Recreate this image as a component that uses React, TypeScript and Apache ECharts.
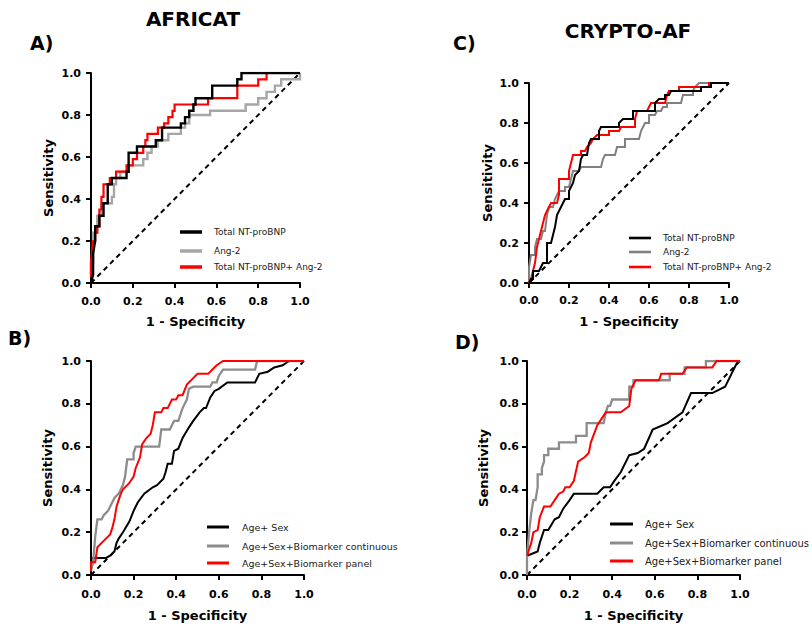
import React, { useEffect, useRef } from "react";
import * as echarts from "echarts";

// ---------- data (1 - specificity, sensitivity) ----------
const africatNtProBnp: number[][] = [
  [0, 0], [0.01, 0.04], [0.01, 0.14], [0.02, 0.2], [0.02, 0.27], [0.04, 0.27], [0.04, 0.32], [0.06, 0.32],
  [0.06, 0.38], [0.08, 0.38], [0.08, 0.47], [0.1, 0.47], [0.1, 0.5], [0.17, 0.5], [0.17, 0.53], [0.18, 0.53],
  [0.18, 0.62], [0.22, 0.62], [0.22, 0.65], [0.31, 0.65], [0.31, 0.68], [0.34, 0.68], [0.34, 0.74], [0.43, 0.74],
  [0.43, 0.76], [0.45, 0.76], [0.45, 0.79], [0.47, 0.79], [0.47, 0.82], [0.49, 0.82], [0.49, 0.85], [0.5, 0.85],
  [0.5, 0.88], [0.58, 0.88], [0.58, 0.94], [0.7, 0.94], [0.7, 0.97], [0.72, 0.97], [0.72, 1], [1, 1],
];
const africatAng2: number[][] = [
  [0, 0.03], [0, 0.1], [0.01, 0.1], [0.01, 0.24], [0.03, 0.24], [0.03, 0.32], [0.05, 0.32], [0.05, 0.38],
  [0.1, 0.38], [0.1, 0.41], [0.11, 0.41], [0.11, 0.47], [0.12, 0.47], [0.12, 0.5], [0.14, 0.5], [0.14, 0.53],
  [0.18, 0.53], [0.18, 0.56], [0.25, 0.56], [0.25, 0.59], [0.27, 0.59], [0.27, 0.62], [0.29, 0.62], [0.29, 0.65],
  [0.32, 0.65], [0.32, 0.68], [0.37, 0.68], [0.37, 0.71], [0.43, 0.71], [0.43, 0.74], [0.45, 0.74], [0.45, 0.76],
  [0.47, 0.76], [0.47, 0.8], [0.57, 0.8], [0.57, 0.82], [0.74, 0.82], [0.74, 0.85], [0.8, 0.85], [0.8, 0.88],
  [0.84, 0.88], [0.84, 0.91], [0.88, 0.91], [0.88, 0.94], [0.91, 0.94], [0.91, 0.97], [1, 0.97], [1, 1],
];
const africatCombined: number[][] = [
  [0, 0.03], [0, 0.1], [0.01, 0.2], [0.02, 0.2], [0.02, 0.24], [0.03, 0.24], [0.03, 0.27], [0.04, 0.27],
  [0.04, 0.35], [0.05, 0.35], [0.05, 0.41], [0.06, 0.41], [0.06, 0.47], [0.09, 0.47], [0.09, 0.5], [0.12, 0.5],
  [0.12, 0.53], [0.17, 0.53], [0.17, 0.56], [0.2, 0.56], [0.2, 0.59], [0.22, 0.59], [0.22, 0.62], [0.25, 0.62],
  [0.25, 0.65], [0.26, 0.65], [0.26, 0.68], [0.27, 0.68], [0.27, 0.71], [0.32, 0.71], [0.32, 0.74], [0.35, 0.74],
  [0.35, 0.76], [0.37, 0.76], [0.37, 0.79], [0.39, 0.79], [0.39, 0.82], [0.4, 0.82], [0.4, 0.85], [0.56, 0.85],
  [0.56, 0.88], [0.7, 0.88], [0.7, 0.94], [0.8, 0.94], [0.8, 0.97], [0.84, 0.97], [0.84, 1], [1, 1],
];

const africatAgeSex: number[][] = [
  [0, 0.03], [0.01, 0.08], [0.07, 0.08], [0.09, 0.09], [0.11, 0.11], [0.12, 0.15], [0.13, 0.17], [0.15, 0.2],
  [0.18, 0.25], [0.2, 0.3], [0.22, 0.34], [0.25, 0.38], [0.29, 0.41], [0.31, 0.42], [0.34, 0.45], [0.35, 0.48],
  [0.36, 0.52], [0.38, 0.52], [0.39, 0.58], [0.41, 0.59], [0.43, 0.64], [0.46, 0.69], [0.48, 0.72], [0.51, 0.76],
  [0.53, 0.78], [0.54, 0.78], [0.56, 0.83], [0.58, 0.86], [0.6, 0.87], [0.64, 0.9], [0.77, 0.9], [0.79, 0.94],
  [0.83, 0.95], [0.86, 0.97], [0.9, 0.98], [0.93, 1], [1, 1],
];
const africatContinuous: number[][] = [
  [0, 0.02], [0.01, 0.06], [0.02, 0.18], [0.03, 0.26], [0.05, 0.26], [0.06, 0.28], [0.08, 0.3], [0.1, 0.34],
  [0.11, 0.36], [0.13, 0.38], [0.15, 0.42], [0.16, 0.46], [0.17, 0.54], [0.2, 0.54], [0.2, 0.57], [0.21, 0.6],
  [0.32, 0.6], [0.33, 0.68], [0.37, 0.68], [0.39, 0.72], [0.41, 0.72], [0.42, 0.75], [0.43, 0.78], [0.45, 0.82],
  [0.46, 0.87], [0.48, 0.88], [0.56, 0.88], [0.57, 0.9], [0.59, 0.9], [0.6, 0.93], [0.62, 0.96], [0.77, 0.96],
  [0.78, 1], [1, 1],
];
const africatPanel: number[][] = [
  [0, 0.02], [0, 0.06], [0.02, 0.06], [0.03, 0.13], [0.05, 0.15], [0.07, 0.17], [0.09, 0.19], [0.1, 0.22],
  [0.11, 0.26], [0.12, 0.32], [0.14, 0.38], [0.15, 0.4], [0.17, 0.42], [0.18, 0.43], [0.2, 0.46], [0.21, 0.5],
  [0.23, 0.55], [0.24, 0.61], [0.26, 0.64], [0.28, 0.66], [0.29, 0.7], [0.3, 0.76], [0.33, 0.76], [0.34, 0.78],
  [0.36, 0.78], [0.38, 0.82], [0.4, 0.82], [0.41, 0.84], [0.43, 0.84], [0.45, 0.89], [0.48, 0.92], [0.5, 0.94],
  [0.55, 0.94], [0.57, 0.96], [0.59, 0.98], [0.62, 1], [1, 1],
];

const cryptoNtProBnp: number[][] = [
  [0, 0], [0.01, 0.02], [0.02, 0.02], [0.02, 0.06], [0.05, 0.06], [0.06, 0.08], [0.07, 0.1], [0.09, 0.1],
  [0.09, 0.2], [0.11, 0.2], [0.12, 0.24], [0.13, 0.28], [0.14, 0.34], [0.15, 0.36], [0.16, 0.38], [0.18, 0.42],
  [0.2, 0.42], [0.2, 0.46], [0.22, 0.5], [0.23, 0.54], [0.25, 0.56], [0.26, 0.62], [0.27, 0.64], [0.29, 0.64],
  [0.3, 0.7], [0.31, 0.72], [0.35, 0.72], [0.35, 0.76], [0.36, 0.78], [0.45, 0.78], [0.45, 0.8], [0.47, 0.82],
  [0.52, 0.82], [0.52, 0.86], [0.63, 0.86], [0.63, 0.9], [0.65, 0.92], [0.68, 0.92], [0.68, 0.94], [0.7, 0.94],
  [0.71, 0.96], [0.86, 0.96], [0.86, 0.98], [0.91, 0.98], [0.91, 1], [1, 1],
];
const cryptoAng2: number[][] = [
  [0, 0], [0, 0.08], [0.01, 0.14], [0.03, 0.14], [0.03, 0.18], [0.04, 0.22], [0.06, 0.22], [0.07, 0.26],
  [0.08, 0.26], [0.09, 0.34], [0.1, 0.38], [0.12, 0.38], [0.13, 0.42], [0.14, 0.44], [0.15, 0.46], [0.18, 0.46],
  [0.18, 0.48], [0.2, 0.48], [0.21, 0.52], [0.22, 0.56], [0.25, 0.56], [0.26, 0.58], [0.36, 0.58], [0.37, 0.62],
  [0.38, 0.64], [0.43, 0.64], [0.44, 0.68], [0.48, 0.68], [0.48, 0.72], [0.55, 0.72], [0.56, 0.76], [0.58, 0.8],
  [0.6, 0.8], [0.6, 0.84], [0.63, 0.84], [0.64, 0.86], [0.66, 0.86], [0.67, 0.88], [0.69, 0.88], [0.69, 0.9],
  [0.76, 0.9], [0.77, 0.94], [0.82, 0.94], [0.82, 0.96], [0.83, 0.98], [0.85, 1], [1, 1],
];
const cryptoCombined: number[][] = [
  [0, 0], [0.01, 0.02], [0.02, 0.06], [0.03, 0.1], [0.04, 0.18], [0.05, 0.22], [0.06, 0.26], [0.07, 0.3],
  [0.08, 0.34], [0.09, 0.36], [0.1, 0.38], [0.11, 0.4], [0.14, 0.4], [0.15, 0.44], [0.15, 0.52], [0.2, 0.52],
  [0.2, 0.56], [0.21, 0.6], [0.22, 0.64], [0.26, 0.64], [0.26, 0.66], [0.28, 0.66], [0.29, 0.68], [0.31, 0.7],
  [0.32, 0.72], [0.34, 0.74], [0.4, 0.74], [0.4, 0.76], [0.45, 0.76], [0.46, 0.78], [0.53, 0.78], [0.53, 0.82],
  [0.54, 0.86], [0.59, 0.86], [0.6, 0.88], [0.61, 0.9], [0.68, 0.9], [0.69, 0.94], [0.7, 0.96], [0.75, 0.96],
  [0.75, 0.98], [0.9, 0.98], [0.9, 1], [1, 1],
];

const cryptoAgeSex: number[][] = [
  [0, 0.09], [0.05, 0.11], [0.06, 0.15], [0.08, 0.21], [0.1, 0.21], [0.13, 0.26], [0.15, 0.27], [0.17, 0.31],
  [0.2, 0.35], [0.22, 0.38], [0.33, 0.38], [0.36, 0.41], [0.39, 0.41], [0.41, 0.44], [0.44, 0.48], [0.48, 0.56],
  [0.52, 0.57], [0.55, 0.59], [0.59, 0.68], [0.66, 0.71], [0.73, 0.76], [0.77, 0.85], [0.87, 0.85], [0.93, 0.88],
  [0.96, 0.94], [0.99, 1], [1, 1],
];
const cryptoContinuous: number[][] = [
  [0, 0], [0, 0.09], [0.01, 0.2], [0.02, 0.29], [0.03, 0.35], [0.04, 0.35], [0.05, 0.41], [0.05, 0.47],
  [0.07, 0.47], [0.07, 0.5], [0.08, 0.53], [0.08, 0.56], [0.1, 0.56], [0.1, 0.59], [0.15, 0.59], [0.15, 0.62],
  [0.23, 0.62], [0.23, 0.65], [0.28, 0.65], [0.28, 0.71], [0.36, 0.71], [0.37, 0.76], [0.38, 0.79], [0.39, 0.79],
  [0.4, 0.82], [0.48, 0.82], [0.48, 0.88], [0.5, 0.88], [0.5, 0.91], [0.67, 0.91], [0.67, 0.94], [0.74, 0.94],
  [0.74, 0.97], [0.84, 0.97], [0.84, 1], [1, 1],
];
const cryptoPanel: number[][] = [
  [0, 0.09], [0.02, 0.15], [0.03, 0.2], [0.05, 0.21], [0.06, 0.27], [0.08, 0.32], [0.11, 0.32], [0.13, 0.35],
  [0.15, 0.38], [0.17, 0.39], [0.18, 0.41], [0.2, 0.41], [0.22, 0.44], [0.24, 0.53], [0.27, 0.55], [0.29, 0.57],
  [0.3, 0.62], [0.33, 0.7], [0.37, 0.76], [0.44, 0.76], [0.48, 0.79], [0.49, 0.87], [0.51, 0.91], [0.62, 0.91],
  [0.63, 0.94], [0.73, 0.94], [0.75, 0.97], [0.87, 0.97], [0.89, 1], [1, 1],
];

const referenceLine: number[][] = [[0, 0], [1, 1]];
const axisTicks = [0, 0.2, 0.4, 0.6, 0.8, 1.0];
const xTitle = "1 - Specificity";
const yTitle = "Sensitivity";
const namesTop = ["Total NT-proBNP", "Ang-2", "Total NT-proBNP+ Ang-2"];
const namesBottom = ["Age+ Sex", "Age+Sex+Biomarker continuous", "Age+Sex+Biomarker panel"];

// ---------- layout ----------
const FONT = '"DejaVu Sans", "Liberation Sans", Arial, sans-serif';
const RED = "#ff0000";

type Panel = {
  grid: { left: number; top: number; width: number; height: number };
  xMargin: number; yMargin: number; xGap: number; yGap: number;
  legendNames: string[];
  series: { name: string; data: number[][]; color: string; width: number; z: number }[];
  legend: { x1: number; x2: number; tx: number; ys: number[]; size: number; lw: number };
};

const panels: Panel[] = [
  {
    grid: { left: 91, top: 73, width: 209, height: 210 },
    xMargin: 13, yMargin: 10, xGap: 32, yGap: 36,
    legendNames: namesTop,
    series: [
      { name: namesTop[1], data: africatAng2, color: "#a6a6a6", width: 2.4, z: 3 },
      { name: namesTop[2], data: africatCombined, color: RED, width: 2.2, z: 4 },
      { name: namesTop[0], data: africatNtProBnp, color: "#000000", width: 2.4, z: 5 },
    ],
    legend: { x1: 180, x2: 202, tx: 214, ys: [232, 251, 267], size: 9, lw: 3.5 },
  },
  {
    grid: { left: 91, top: 361, width: 213, height: 214 },
    xMargin: 14, yMargin: 10, xGap: 34, yGap: 37,
    legendNames: namesBottom,
    series: [
      { name: namesBottom[0], data: africatAgeSex, color: "#000000", width: 2, z: 3 },
      { name: namesBottom[1], data: africatContinuous, color: "#8c8c8c", width: 2.3, z: 4 },
      { name: namesBottom[2], data: africatPanel, color: RED, width: 2, z: 5 },
    ],
    legend: { x1: 207, x2: 229, tx: 242, ys: [527, 546, 563], size: 9.5, lw: 3 },
  },
  {
    grid: { left: 529, top: 83, width: 200, height: 200 },
    xMargin: 12, yMargin: 10, xGap: 32, yGap: 35,
    legendNames: namesTop,
    series: [
      { name: namesTop[1], data: cryptoAng2, color: "#808080", width: 2, z: 3 },
      { name: namesTop[2], data: cryptoCombined, color: RED, width: 2, z: 4 },
      { name: namesTop[0], data: cryptoNtProBnp, color: "#000000", width: 2, z: 5 },
    ],
    legend: { x1: 629, x2: 651, tx: 663, ys: [238, 252, 267], size: 9, lw: 2.6 },
  },
  {
    grid: { left: 527, top: 361, width: 213, height: 214 },
    xMargin: 14, yMargin: 8, xGap: 34, yGap: 37,
    legendNames: namesBottom,
    series: [
      { name: namesBottom[0], data: cryptoAgeSex, color: "#000000", width: 2, z: 3 },
      { name: namesBottom[1], data: cryptoContinuous, color: "#8c8c8c", width: 2.3, z: 4 },
      { name: namesBottom[2], data: cryptoPanel, color: RED, width: 2, z: 5 },
    ],
    legend: { x1: 610, x2: 633, tx: 645, ys: [524, 543, 561], size: 10, lw: 3 },
  },
];

function buildOption() {
  const labelStyle = { color: "#000", fontWeight: "bold" as const, fontSize: 11, fontFamily: FONT };
  const nameStyle = { color: "#000", fontWeight: "bold" as const, fontSize: 13, fontFamily: FONT };
  const axisCommon = {
    type: "value" as const,
    min: axisTicks[0],
    max: axisTicks[axisTicks.length - 1],
    interval: 0.2,
    splitLine: { show: false },
    axisLine: { show: true, lineStyle: { color: "#000", width: 2 } },
    axisTick: { show: true, inside: false, length: 5, lineStyle: { color: "#000", width: 2 } },
    nameLocation: "middle" as const,
    nameTextStyle: nameStyle,
  };
  const grid = panels.map((p) => ({ ...p.grid, containLabel: false }));
  const xAxis = panels.map((p, i) => ({
    ...axisCommon,
    gridIndex: i,
    name: xTitle,
    nameGap: p.xGap,
    axisLabel: { ...labelStyle, margin: p.xMargin, formatter: (v: number) => v.toFixed(1) },
  }));
  const yAxis = panels.map((p, i) => ({
    ...axisCommon,
    gridIndex: i,
    name: yTitle,
    nameGap: p.yGap,
    axisLabel: { ...labelStyle, margin: p.yMargin, formatter: (v: number) => v.toFixed(1) },
  }));
  const series: any[] = [];
  panels.forEach((p, i) => {
    series.push({
      type: "line",
      name: "reference",
      xAxisIndex: i,
      yAxisIndex: i,
      data: referenceLine,
      showSymbol: false,
      symbol: "none",
      silent: true,
      z: 2,
      lineStyle: { color: "#000", width: 2, type: [5, 4] },
    });
    p.series.forEach((s) => {
      series.push({
        type: "line",
        name: s.name,
        xAxisIndex: i,
        yAxisIndex: i,
        data: s.data,
        showSymbol: false,
        symbol: "none",
        silent: true,
        z: s.z,
        lineStyle: { color: s.color, width: s.width, cap: "butt", join: "miter" },
      });
    });
  });

  const titleFont = `bold 20px ${FONT}`;
  const letterFont = `bold 19px ${FONT}`;
  const graphic: any[] = [
    { type: "text", style: { text: "AFRICAT", x: 193, y: 19, align: "center", verticalAlign: "middle", fill: "#000", font: titleFont } },
    { type: "text", style: { text: "CRYPTO-AF", x: 628, y: 31, align: "center", verticalAlign: "middle", fill: "#000", font: titleFont } },
    { type: "text", style: { text: "A)", x: 30, y: 43, align: "left", verticalAlign: "middle", fill: "#000", font: letterFont } },
    { type: "text", style: { text: "B)", x: 8, y: 338, align: "left", verticalAlign: "middle", fill: "#000", font: letterFont } },
    { type: "text", style: { text: "C)", x: 453, y: 43, align: "left", verticalAlign: "middle", fill: "#000", font: letterFont } },
    { type: "text", style: { text: "D)", x: 455, y: 342, align: "left", verticalAlign: "middle", fill: "#000", font: letterFont } },
  ];
  panels.forEach((p) => {
    p.legendNames.forEach((name, row) => {
      const s = p.series.find((d) => d.name === name)!;
      const y = p.legend.ys[row];
      graphic.push({
        type: "line",
        shape: { x1: p.legend.x1, y1: y, x2: p.legend.x2, y2: y },
        style: { stroke: s.color, lineWidth: p.legend.lw },
      });
      graphic.push({
        type: "text",
        style: { text: name, x: p.legend.tx, y, align: "left", verticalAlign: "middle", fill: "#222", font: `${p.legend.size}px ${FONT}` },
      });
    });
  });

  return { animation: false, backgroundColor: "#ffffff", grid, xAxis, yAxis, series, graphic };
}

export default function App() {
  const ref = useRef<HTMLDivElement>(null);
  useEffect(() => {
    if (!ref.current) return;
    const chart = echarts.init(ref.current, undefined, { renderer: "svg" });
    chart.setOption(buildOption() as any);
    return () => chart.dispose();
  }, []);
  return (
    <div
      ref={ref}
      style={{ position: "fixed", left: 0, top: 0, width: 812, height: 627, background: "#fff" }}
    />
  );
}
